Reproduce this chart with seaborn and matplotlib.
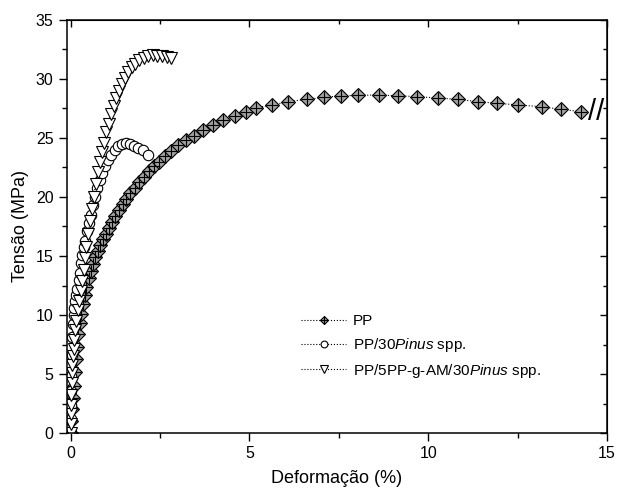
import numpy as np
import matplotlib
matplotlib.use('Agg')
import matplotlib.pyplot as plt
import seaborn as sns
from matplotlib.ticker import MultipleLocator
from matplotlib.legend_handler import HandlerTuple

sns.set_style('ticks')
plt.rcParams['font.family'] = ['Liberation Sans', 'DejaVu Sans']
plt.rcParams['mathtext.fontset'] = 'custom'
plt.rcParams['mathtext.it'] = 'Liberation Sans:italic'
plt.rcParams['mathtext.rm'] = 'Liberation Sans'
for k in ['text.color', 'axes.labelcolor', 'xtick.color', 'ytick.color', 'axes.edgecolor']:
    plt.rcParams[k] = 'black'

# PP
pp_x = [0.00, 0.02, 0.04, 0.06, 0.08, 0.11, 0.14, 0.17, 0.21, 0.25, 0.29, 0.34, 0.39, 0.44,
        0.50, 0.56, 0.62, 0.69, 0.76, 0.83, 0.91, 0.99, 1.07, 1.16, 1.25, 1.35, 1.45, 1.56,
        1.67, 1.79, 1.91, 2.04, 2.18, 2.33, 2.48, 2.64, 2.82, 3.01, 3.22, 3.45, 3.70, 3.97,
        4.27, 4.60, 4.90, 5.18, 5.62, 6.09, 6.60, 7.08, 7.55, 8.05, 8.61, 9.15, 9.70, 10.26,
        10.82, 11.38, 11.93, 12.52, 13.17, 13.72, 14.28]
pp_y = [0.0, 1.0, 2.0, 3.0, 4.0, 5.2, 6.3, 7.3, 8.4, 9.3, 10.1, 10.9, 11.7, 12.4,
        13.1, 13.7, 14.3, 14.9, 15.4, 15.9, 16.4, 16.9, 17.4, 17.9, 18.4, 18.9, 19.4, 19.8,
        20.3, 20.8, 21.3, 21.7, 22.2, 22.6, 23.0, 23.5, 23.9, 24.4, 24.8, 25.2, 25.7, 26.1,
        26.5, 26.9, 27.2, 27.55, 27.80, 28.08, 28.28, 28.45, 28.56, 28.62, 28.64, 28.58, 28.50, 28.39,
        28.28, 28.08, 27.94, 27.80, 27.65, 27.43, 27.23]

# PP/30 Pinus spp.
pin_x = [0.00, 0.005, 0.01, 0.015, 0.02, 0.03, 0.04, 0.06, 0.08, 0.10, 0.13, 0.155, 0.18,
         0.22, 0.25, 0.29, 0.33, 0.37, 0.41, 0.46, 0.51, 0.56, 0.62, 0.68, 0.75, 0.82, 0.89,
         0.97, 1.05, 1.14, 1.23, 1.33, 1.43, 1.54, 1.65, 1.77, 1.89, 2.01, 2.15]
pin_y = [0.0, 1.2, 2.4, 3.6, 4.8, 6.6, 8.1, 9.2, 10.0, 10.6, 11.2, 11.7, 12.2,
         13.0, 13.6, 14.4, 15.1, 15.8, 16.3, 17.1, 17.8, 18.5, 19.3, 20.0, 20.8, 21.4, 22.0,
         22.6, 23.1, 23.6, 24.0, 24.3, 24.5, 24.55, 24.5, 24.35, 24.15, 23.95, 23.6]

# PP/5PP-g-AM/30 Pinus spp.
am_x = [0.00, 0.005, 0.01, 0.015, 0.02, 0.03, 0.04, 0.05, 0.065, 0.08, 0.10, 0.13, 0.16,
        0.20, 0.24, 0.28, 0.32, 0.36, 0.40, 0.44, 0.49, 0.54, 0.59, 0.64, 0.70, 0.76, 0.82,
        0.88, 0.94, 1.00, 1.06, 1.13, 1.20, 1.27, 1.35, 1.43, 1.52, 1.61, 1.71, 1.81, 1.92,
        2.04, 2.16, 2.29, 2.42, 2.56, 2.70, 2.80]
am_y = [0.0, 0.8, 1.6, 2.4, 3.2, 4.2, 5.1, 5.8, 6.5, 7.1, 7.9, 8.7, 9.5,
        10.4, 11.2, 12.0, 12.9, 13.8, 14.8, 15.8, 16.9, 18.0, 19.0, 20.0, 21.1, 22.1, 23.0,
        23.8, 24.6, 25.5, 26.2, 27.0, 27.7, 28.4, 29.0, 29.6, 30.1, 30.6, 31.0, 31.3, 31.6,
        31.8, 31.95, 32.0, 31.98, 31.92, 31.85, 31.75]

fig = plt.figure(figsize=(6.19, 4.96), dpi=100)
ax = fig.add_axes([0.1078, 0.127, 0.8728, 0.8327])

line_kw = dict(color='black', linestyle=':', linewidth=0.8, sort=False, estimator=None)
sns.lineplot(x=pp_x, y=pp_y, ax=ax, marker='D', markersize=6.8, markerfacecolor='#a0a0a0',
             markeredgecolor='black', markeredgewidth=0.8, **line_kw)
h_pp = ax.lines[-1]
sns.lineplot(x=pp_x, y=pp_y, ax=ax, marker='+', markersize=8.5, markeredgecolor='black',
             markeredgewidth=0.8, color='black', linestyle='none', sort=False, estimator=None)
h_plus = ax.lines[-1]
sns.lineplot(x=pin_x, y=pin_y, ax=ax, marker='o', markersize=7.5, markerfacecolor='white',
             markeredgecolor='black', markeredgewidth=0.8, **line_kw)
h_pin = ax.lines[-1]
sns.lineplot(x=am_x, y=am_y, ax=ax, marker='v', markersize=8, markerfacecolor='white',
             markeredgecolor='black', markeredgewidth=0.8, **line_kw)
h_am = ax.lines[-1]

# break mark after the last PP point
ax.annotate('//', (pp_x[-1], pp_y[-1]), xytext=(5, 0), textcoords='offset points',
            fontsize=21, va='center', ha='left')

ax.set_xlim(-0.11, 15)
ax.set_ylim(0, 35)
ax.xaxis.set_major_locator(MultipleLocator(5))
ax.xaxis.set_minor_locator(MultipleLocator(2.5))
ax.yaxis.set_major_locator(MultipleLocator(5))
ax.yaxis.set_minor_locator(MultipleLocator(2.5))
ax.tick_params(which='major', direction='out', length=6, width=1, labelsize=11.5, pad=3.5)
ax.tick_params(which='minor', direction='out', length=3.5, width=1)
for s in ax.spines.values():
    s.set_linewidth(1.1)

top = ax.secondary_xaxis('top')
top.xaxis.set_major_locator(MultipleLocator(5))
top.xaxis.set_minor_locator(MultipleLocator(2.5))
top.tick_params(which='major', direction='in', length=5, width=1, labeltop=False)
top.tick_params(which='minor', direction='in', length=3, width=1)
right = ax.secondary_yaxis('right')
right.yaxis.set_major_locator(MultipleLocator(5))
right.yaxis.set_minor_locator(MultipleLocator(2.5))
right.tick_params(which='major', direction='in', length=5, width=1, labelright=False)
right.tick_params(which='minor', direction='in', length=3, width=1)

ax.set_xlabel('Deformação (%)', fontsize=13, labelpad=6)
ax.set_ylabel('Tensão (MPa)', fontsize=13, labelpad=5)

ax.legend([(h_pp, h_plus), h_pin, h_am],
          ['PP', 'PP/30$\\it{Pinus}$ spp.', 'PP/5PP-g-AM/30$\\it{Pinus}$ spp.'],
          handler_map={tuple: HandlerTuple(ndivide=1)},
          loc='center left', bbox_to_anchor=(0.409, 0.208), frameon=False,
          fontsize=11, markerscale=0.65, handlelength=2.9, handletextpad=0.45,
          labelspacing=0.5, borderpad=0.4)

fig.savefig('out.png', dpi=100)
